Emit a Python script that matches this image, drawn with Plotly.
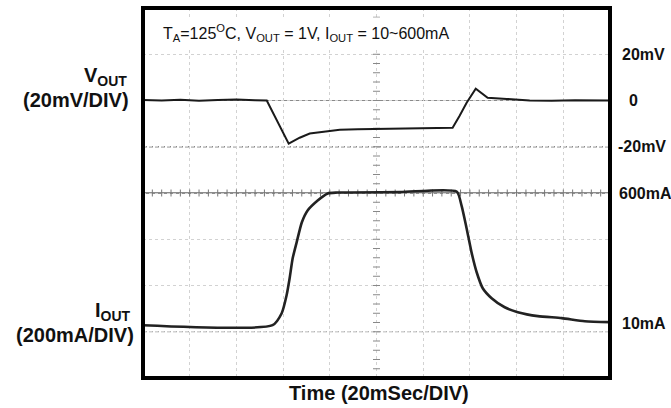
import plotly.graph_objects as go
import numpy as np

# ---------------- data ----------------
# Time axis in ms (20 ms / division, 10 divisions)
v_time_ms = [0, 8, 16, 24, 32, 40, 48, 53.0, 62.4, 67.1, 71.4, 77.0, 84.3, 92,
             101.4, 110, 120, 128, 132.6, 135.6, 138.6, 142.5, 145.5, 147.6,
             155.8, 165.6, 175, 185, 200]
v_out_mv = [0.2, 0.0, 0.3, -0.1, 0.2, 0.4, 0.1, 0.0, -18.7, -16.1, -14.3, -13.5,
            -12.6, -12.4, -12.2, -12.0, -12.1, -11.9, -11.8, -6.6, -1.0, 5.1,
            2.9, 1.2, 0.7, 0.0, -0.1, 0.1, 0.0]

i_time_ms = [0, 55.5, 59.4, 61.5, 62.8, 64.1, 65.8, 68.0, 70.5, 74.8, 79.1, 83.3,
             110, 134.3, 136.4, 138.6, 140.7, 142.9, 145.5, 149.3, 154.9, 160.5,
             169.1, 179.3, 189.2, 200]
i_out_ma = [3, 3, 57, 138, 215, 305, 377, 467, 521, 566, 598, 602, 604, 607, 544,
            440, 332, 242, 170, 125, 84, 62, 44, 35, 21, 17]

v_tick_vals = [20, 0, -20]
v_tick_text = ["20mV", "0", "-20mV"]
i_tick_vals = [600, 10]
i_tick_text = ["600mA", "10mA"]

title_text = ("T<sub>A</sub>=125<sup>O</sup>C, V<sub>OUT</sub> = 1V, "
              "I<sub>OUT</sub> = 10~600mA")
x_label = "Time (20mSec/DIV)"
v_label = ["V<sub>OUT</sub>", "(20mV/DIV)"]
i_label = ["I<sub>OUT</sub>", "(200mA/DIV)"]

# ---------------- figure ----------------
FONT = "Arial, 'Liberation Sans', sans-serif"
W, H = 671, 408
# plot area in window pixels: x 143..610, y 8..378
PX_L, PX_R, PX_T, PX_B = 143, 610, 8, 378
ML, MT = PX_L, PX_T
MR, MB = W - PX_R, H - PX_B

fig = go.Figure()

# base (division) axis trace, invisible, to establish subplot
fig.add_trace(go.Scatter(x=[], y=[], xaxis="x", yaxis="y", showlegend=False))

# centre-cross minor ticks (oscilloscope graticule)
hx = np.arange(0, 200.01, 4)
fig.add_trace(go.Scatter(x=hx, y=np.full_like(hx, 4.0), mode="markers",
                         marker=dict(symbol="line-ns", size=5,
                                     line=dict(width=1, color="#777")),
                         hoverinfo="skip", showlegend=False, yaxis="y"))
vy = np.arange(0, 8.01, 0.2)
fig.add_trace(go.Scatter(x=np.full_like(vy, 100.0), y=vy, mode="markers",
                         marker=dict(symbol="line-ew", size=5,
                                     line=dict(width=1, color="#888")),
                         hoverinfo="skip", showlegend=False, yaxis="y"))

fig.add_trace(go.Scatter(x=v_time_ms, y=v_out_mv, mode="lines",
                         line=dict(color="#1a1a1a", width=2),
                         yaxis="y2", showlegend=False))
fig.add_trace(go.Scatter(x=i_time_ms, y=i_out_ma, mode="lines",
                         line=dict(color="#222", width=2.6, shape="spline",
                                   smoothing=0.6),
                         yaxis="y3", showlegend=False))

grid = dict(showgrid=True, gridcolor="#d2d2d2", griddash="dot", gridwidth=1,
            zeroline=False, showticklabels=False, ticks="", showline=False)

fig.update_layout(
    width=W, height=H,
    margin=dict(l=ML, r=MR, t=MT, b=MB, pad=0),
    paper_bgcolor="white", plot_bgcolor="white",
    font=dict(family=FONT, color="#111"),
    xaxis=dict(range=[0, 200], dtick=20, fixedrange=True, **grid),
    yaxis=dict(range=[0, 8], dtick=1, fixedrange=True, **grid),
    yaxis2=dict(range=[-120, 40], overlaying="y", showgrid=False,
                zeroline=False, showticklabels=False, ticks="", showline=False),
    yaxis3=dict(range=[-235.5, 1435.5], overlaying="y", showgrid=False,
                zeroline=False, showticklabels=False, ticks="", showline=False),
    showlegend=False,
)

# reference lines on the graticule
fig.add_shape(type="line", xref="paper", x0=0, x1=1, yref="y2", y0=0, y1=0,
              line=dict(color="#8a8a8a", width=1.2), layer="below")
fig.add_shape(type="line", xref="paper", x0=0, x1=1, yref="y2", y0=-20, y1=-20,
              line=dict(color="#8a8a8a", width=1.3, dash="4px,2px"), layer="below")
fig.add_shape(type="line", xref="paper", x0=0, x1=1, yref="y3", y0=600, y1=600,
              line=dict(color="#666", width=1.3), layer="below")
fig.add_shape(type="line", xref="paper", x0=0, x1=1, yref="y", y0=1, y1=1,
              line=dict(color="#9a9a9a", width=1.2, dash="4px,2px"), layer="below")

# frame
fig.add_shape(type="rect", xref="paper", yref="paper", x0=0, x1=1, y0=0, y1=1,
              line=dict(color="black", width=4), layer="above")


def px_x(px):
    return (px - PX_L) / (PX_R - PX_L)


def px_y(py):
    return (PX_B - py) / (PX_B - PX_T)


# title inside plot
fig.add_annotation(text=title_text, xref="paper", yref="paper",
                   x=px_x(158), y=px_y(33), xanchor="left", yanchor="middle",
                   showarrow=False, bgcolor="white", borderpad=4,
                   font=dict(size=16, family=FONT, color="#111"))

# left labels
bold = dict(family=FONT, size=20, color="#111", weight="bold")
fig.add_annotation(text=v_label[0], xref="paper", yref="paper", x=px_x(129),
                   y=px_y(76), xanchor="right", yanchor="middle",
                   showarrow=False, font=bold)
fig.add_annotation(text=v_label[1], xref="paper", yref="paper", x=px_x(131),
                   y=px_y(100), xanchor="right", yanchor="middle",
                   showarrow=False, font=bold)
fig.add_annotation(text=i_label[0], xref="paper", yref="paper", x=px_x(133),
                   y=px_y(311), xanchor="right", yanchor="middle",
                   showarrow=False, font=bold)
fig.add_annotation(text=i_label[1], xref="paper", yref="paper", x=px_x(136),
                   y=px_y(335), xanchor="right", yanchor="middle",
                   showarrow=False, font=bold)

# bottom label
fig.add_annotation(text=x_label, xref="paper", yref="paper", x=px_x(379),
                   y=px_y(393), xanchor="center", yanchor="middle",
                   showarrow=False, font=bold)

# right tick labels
rfont = dict(family=FONT, size=16, color="#111", weight="bold")
v_shift = {"20mV": 10, "0": 17, "-20mV": 6}
i_shift = {"600mA": 7, "10mA": 10}
for val, txt in zip(v_tick_vals, v_tick_text):
    fig.add_annotation(text=txt, xref="paper", yref="y2", x=1, y=val,
                       xanchor="left", yanchor="middle", xshift=v_shift[txt],
                       showarrow=False, font=rfont)
for val, txt in zip(i_tick_vals, i_tick_text):
    fig.add_annotation(text=txt, xref="paper", yref="y3", x=1, y=val,
                       xanchor="left", yanchor="middle", xshift=i_shift[txt],
                       showarrow=False, font=rfont)

# remove the default page margin so the 671x408 figure fills the window
fig.write_html("out.html", config={"displayModeBar": False},
               post_script="document.body.style.margin='0';"
                           "document.body.style.overflow='hidden';")
